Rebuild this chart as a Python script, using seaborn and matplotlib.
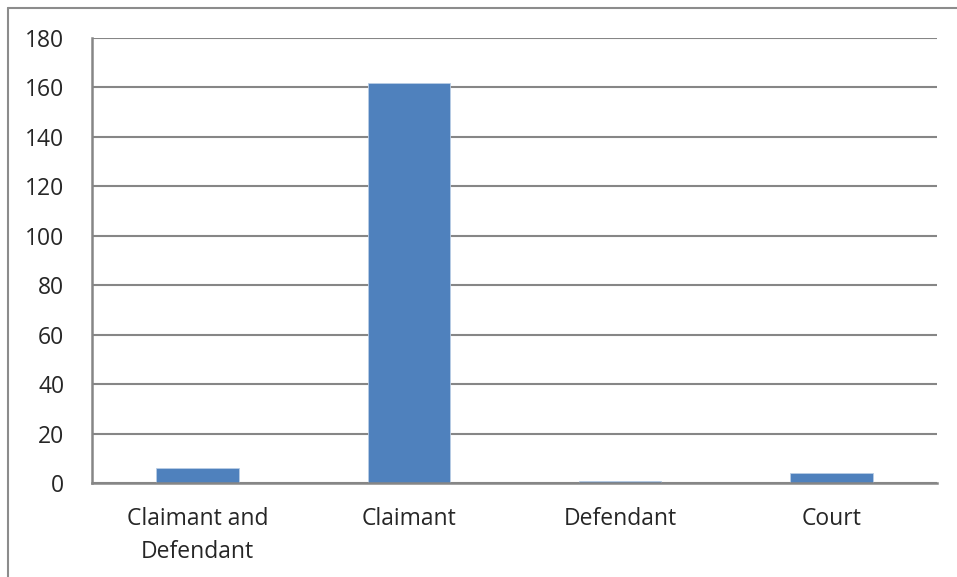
import matplotlib
matplotlib.use("Agg")
import matplotlib.pyplot as plt
from matplotlib.lines import Line2D
import seaborn as sns
import pandas as pd

categories = ["Claimant and\nDefendant", "Claimant", "Defendant", "Court"]
counts = [6, 162, 1, 4]
y_ticks = [0, 20, 40, 60, 80, 100, 120, 140, 160, 180]

sns.set_style("white")
plt.rcParams["font.family"] = ["Open Sans", "DejaVu Sans"]

df = pd.DataFrame({"category": categories, "count": counts})

fig = plt.figure(figsize=(9.57, 5.77), dpi=100)
ax = fig.add_axes([92 / 957, 1 - 483 / 577, (937 - 92) / 957, (483 - 38) / 577])

grid_color = "#868686"
ax.set_axisbelow(True)
ax.yaxis.grid(True, color=grid_color, linewidth=1.5)

sns.barplot(data=df, x="category", y="count", color="#4F81BD", saturation=1,
            width=0.39, edgecolor="#B9CDE5", linewidth=0.6, ax=ax)

ax.set_xlim(-0.5, len(categories) - 0.5)
ax.set_ylim(0, 180)
ax.set_yticks(y_ticks)
ax.set_yticklabels([str(v) for v in y_ticks], fontsize=16.5)
ax.set_xlabel("")
ax.set_ylabel("")

# category labels centred, ticks at category boundaries
ax.set_xticks(range(len(categories)))
ax.set_xticklabels(categories, fontsize=16.5, linespacing=1.5)
ax.set_xticks([i - 0.5 for i in range(len(categories) + 1)], minor=True)
ax.tick_params(axis="x", which="major", length=0, pad=17)
ax.tick_params(axis="x", which="minor", length=7, width=1.5, color=grid_color, direction="out")
ax.tick_params(axis="y", length=7, width=1.5, color=grid_color, direction="out", pad=13)

for side in ["top", "right"]:
    ax.spines[side].set_visible(False)
for side in ["left", "bottom"]:
    ax.spines[side].set_color(grid_color)
    ax.spines[side].set_linewidth(1.8)

# chart-area border
W, H = 957, 577
fig.add_artist(Line2D([8 / W, 8 / W], [0, 1 - 8 / H], color="#8c8c8c", linewidth=1.5))
fig.add_artist(Line2D([8 / W, 1], [1 - 8 / H, 1 - 8 / H], color="#8c8c8c", linewidth=1.5))

fig.savefig("out.png", dpi=100)
